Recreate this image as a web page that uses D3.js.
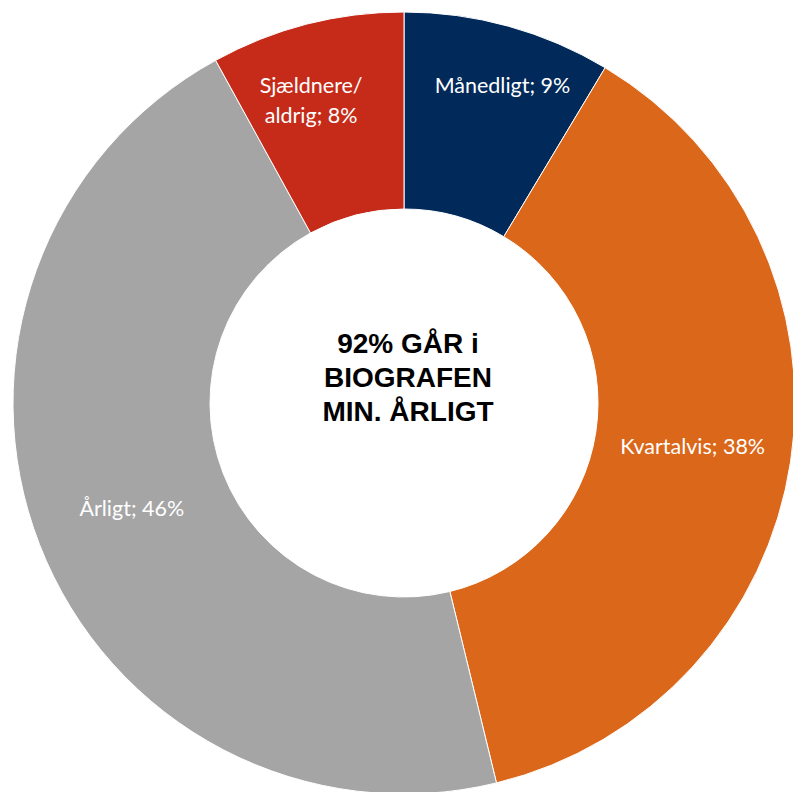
<!DOCTYPE html>
<html>
<head>
<meta charset="utf-8">
<script src="https://cdn.jsdelivr.net/npm/d3@7"></script>
<style>
  body { margin: 0; background: #fff; }
  svg { display: block; }
</style>
</head>
<body>
<script>
// frequency of cinema visits (share of respondents)
var categories = ["Månedligt", "Kvartalvis", "Årligt", "Sjældnere/aldrig"];
var shares = [8.6, 37.6, 45.8, 8.0];        // slice sizes
var shareLabels = ["9%", "38%", "46%", "8%"]; // rounded values as printed
var colors = ["#012a5b", "#db671a", "#a5a5a5", "#c62b1a"];
var centerLines = ["92% GÅR i", "BIOGRAFEN", "MIN. ÅRLIGT"];

var width = 793, height = 792;
var cx = 404, cy = 403;
var outerR = 391, innerR = 194;

var svg = d3.select("body").append("svg")
    .attr("width", width)
    .attr("height", height);

var g = svg.append("g")
    .attr("transform", "translate(" + cx + "," + cy + ")");

var data = categories.map(function (c, i) {
    return { name: c, value: shares[i], label: shareLabels[i], color: colors[i] };
});

var pie = d3.pie()
    .sort(null)
    .value(function (d) { return d.value; });

var arc = d3.arc()
    .innerRadius(innerR)
    .outerRadius(outerR);

var arcs = pie(data);

g.selectAll("path.slice")
    .data(arcs)
    .enter().append("path")
    .attr("class", "slice")
    .attr("d", arc)
    .attr("fill", function (d) { return d.data.color; })
    .attr("stroke", "#fff")
    .attr("stroke-width", 1);

// small slices get their labels pushed out a bit (like excel does)
var labelArcBig = d3.arc().innerRadius(292).outerRadius(292);
function labelPos(d, nLines) {
    var small = (d.endAngle - d.startAngle) < 0.7;
    if (!small) return labelArcBig.centroid(d);
    var mid = (d.startAngle + d.endAngle) / 2;
    var r = nLines > 1 ? 316 : 332;
    var shift = mid < Math.PI ? 0.031 : -0.047;//nudge away from the vertical
    return [r * Math.sin(mid + shift), -r * Math.cos(mid + shift)];
}

arcs.forEach(function (d) {
    var parts = d.data.name.indexOf("/") > -1
        ? [d.data.name.split("/")[0] + "/", d.data.name.split("/")[1] + "; " + d.data.label]
        : [d.data.name + "; " + d.data.label];
    var p = labelPos(d, parts.length);
    var t = g.append("text")
        .attr("transform", "translate(" + p[0] + "," + p[1] + ")")
        .attr("text-anchor", "middle")
        .attr("fill", "#fff")
        .style("font-family", "Lato, 'Open Sans', sans-serif")
        .style("font-size", "21.5px");
    var start = -(parts.length - 1) * 15;
    parts.forEach(function (line, i) {
        t.append("tspan")
            .attr("x", 0)
            .attr("y", start + i * 30)
            .attr("dy", "0.35em")
            .text(line);
    });
});

// text in the hole
var center = g.append("text")
    .attr("text-anchor", "middle")
    .style("font-family", "'Liberation Sans', Arial, sans-serif")
    .style("font-weight", "bold")
    .style("font-size", "28px")
    .attr("fill", "#000");
centerLines.forEach(function (line, i) {
    center.append("tspan")
        .attr("x", 4)
        .attr("y", -50 + i * 34)
        .text(line);
});
</script>
</body>
</html>
